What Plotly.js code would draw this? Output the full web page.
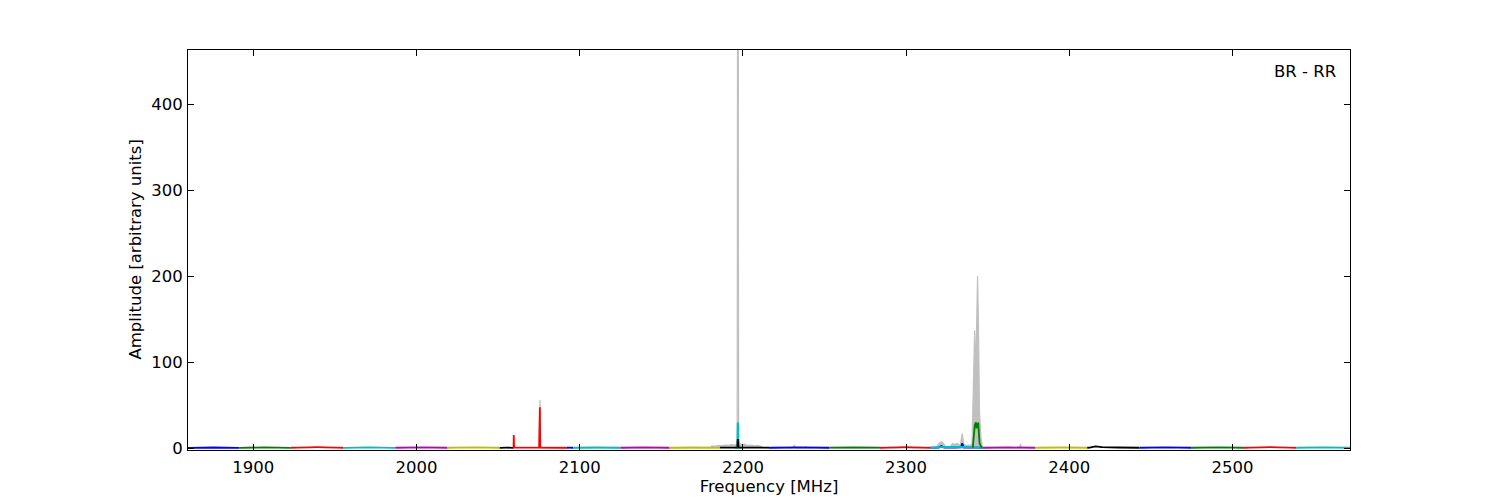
<!DOCTYPE html>
<html>
<head>
<meta charset="utf-8">
<script src="https://cdn.plot.ly/plotly-3.0.1.min.js"></script>
<style>html,body{margin:0;padding:0;background:#fff;}#chart{width:1500px;height:500px;}</style>
</head>
<body>
<div id="chart"></div>
<script>
// ---- Data (frequency in MHz, amplitude in arbitrary units) ----
// Spectrum segments (each band drawn in its own colour)
const segStart = [1860, 1891.6, 1923, 1955, 1987, 2019, 2051, 2059.5, 2092, 2096, 2125, 2155, 2195, 2186, 2216, 2253, 2284, 2315, 2315, 2340.5, 2347, 2379, 2411, 2443, 2475, 2507, 2539];
const segEnd   = [1891.6, 1923, 1955, 1987, 2019, 2051, 2059.5, 2092, 2096, 2125, 2155, 2186, 2199, 2216, 2253, 2284, 2315, 2347, 2347, 2346.5, 2379, 2411, 2443, 2475, 2507, 2539, 2572];
const segColor = ['b','g','r','c','m','y','k','r','b','c','m','y','c','k','b','g','r','b','c','g','m','y','k','b','g','r','c'];
const segEdge  = [0.2, 0.2, 0.3, 0.2, 0.3, 0.3, 0.2, 0.3, 0.3, 0.3, 0.3, 0.3, 0.4, 0.4, 0.3, 0.4, 0.3, 0.4, 0.3, 0.8, 0.3, 0.3, 0.3, 0.3, 0.3, 0.3, 0.3];
const segMid   = [0.6, 0.8, 1.0, 0.7, 0.8, 0.7, 0.4, null, 0.4, 0.6, 0.7, 0.6, null, null, 0.8, 0.8, 1.0, null, null, null, 0.7, 0.6, null, 0.8, 0.8, 1.0, 0.7];

// Features inside segments: segment index, frequency, amplitude
const featSeg  = [7, 7, 7, 7, 7, 7,
                  12, 12, 12, 12,
                  13, 13, 13, 13,
                  17, 17, 17, 17, 17, 17, 17,
                  18, 18, 18, 18, 18, 18,
                  19, 19, 19, 19, 19, 19, 19, 19,
                  22, 22, 22, 22];
const featFreq = [2059.6, 2059.8, 2075.2, 2075.4, 2075.6, 2075.8,
                  2196.6, 2196.8, 2197.1, 2197.3,
                  2196.6, 2196.8, 2197.1, 2197.3,
                  2320.0, 2321.6, 2323.2, 2330, 2333.6, 2334.4, 2335.4,
                  2320.3, 2321.6, 2323.0, 2333.8, 2334.4, 2335.0,
                  2340.9, 2342.1, 2342.8, 2343.2, 2344.2, 2345.0, 2345.6, 2346.2,
                  2412.5, 2416.0, 2420, 2430];
const featAmp  = [15, 0.5, 0.5, 47.5, 47.5, 0.5,
                  0.5, 28.7, 28.7, 0.5,
                  0.5, 9.3, 9.3, 0.5,
                  0.5, 2.3, 0.5, 0.6, 0.8, 5.4, 0.5,
                  1.2, 0.6, 1.2, 1.4, 0.6, 1.3,
                  1.0, 26.7, 29.9, 22.9, 29.5, 5.8, 2.0, 0.8,
                  0.4, 2.0, 1.0, 0.6];

// Gray envelope behind the coloured spectra
const grayFreq = [2074.9, 2075.3, 2075.7, 2076.1,
                  2180, 2181, 2183, 2185, 2187, 2189, 2191, 2193, 2195, 2196.5, 2196.7, 2197.2, 2197.4, 2199, 2201, 2203, 2205, 2207, 2209, 2211, 2213,
                  2230.2, 2231.5, 2232.8, 2238.0, 2238.5, 2239.0,
                  2318.5, 2320, 2321.6, 2323, 2324.5, 2327, 2328.5, 2330, 2331.5, 2333.2, 2334.4, 2335.3, 2337, 2339, 2340.4, 2341.2, 2342.0, 2342.7, 2343.3, 2343.8, 2344.3, 2345.0, 2346.0, 2346.8,
                  2369.6, 2370.1, 2370.6];
const grayAmp  = [0, 55.8, 55.8, 0,
                  0, 2.5, 2.0, 3.0, 2.5, 3.5, 3.0, 4.0, 3.5, 5.0, 470, 470, 6.0, 4.0, 4.5, 3.0, 3.5, 2.5, 3.0, 2.0, 0,
                  0, 3.0, 0, 0, 2.0, 0,
                  0, 5.0, 7.4, 5.0, 0.5, 2.0, 5.0, 4.5, 5.4, 3.0, 17, 4.0, 3.0, 3.0, 5.0, 60, 137, 90, 150, 200, 150, 40, 10, 0,
                  0, 4.7, 0];

const xTicks = [1900, 2000, 2100, 2200, 2300, 2400, 2500];
const yTicks = [0, 100, 200, 300, 400];

// ---- Build traces ----
const colorMap = {b:'#0000ff', g:'#008000', r:'#ff0000', c:'#00bfbf', m:'#bf00bf', y:'#bfbf00', k:'#000000'};
const traces = [];
traces.push({
  x: grayFreq, y: grayAmp, type: 'scatter', mode: 'lines',
  fill: 'tozeroy', fillcolor: 'rgba(192,192,192,1)',
  line: {color: 'rgb(192,192,192)', width: 1.2},
  hoverinfo: 'skip', showlegend: false
});
for (let i = 0; i < segStart.length; i++) {
  const pts = [[segStart[i], segEdge[i]], [segEnd[i], segEdge[i]]];
  if (segMid[i] !== null) pts.push([(segStart[i] + segEnd[i]) / 2, segMid[i]]);
  for (let j = 0; j < featSeg.length; j++) {
    if (featSeg[j] === i) pts.push([featFreq[j], featAmp[j]]);
  }
  pts.sort((a, b) => a[0] - b[0]);
  traces.push({
    x: pts.map(p => p[0]), y: pts.map(p => p[1]),
    type: 'scatter', mode: 'lines',
    line: {color: colorMap[segColor[i]], width: 1.8,
           shape: segMid[i] === null ? 'linear' : 'spline', smoothing: 0.3},
    showlegend: false
  });
}

const font = {family: 'DejaVu Sans, sans-serif', size: 16.5, color: '#000'};
const tickFont = {family: 'DejaVu Sans, sans-serif', size: 16.5, color: '#000'};
const layout = {
  width: 1500, height: 500,
  margin: {l: 188, r: 150, t: 50, b: 50},
  paper_bgcolor: '#fff', plot_bgcolor: '#fff',
  font: font,
  showlegend: false,
  xaxis: {
    range: [1860, 2572], tickvals: xTicks, ticktext: xTicks.map(String),
    ticks: 'inside', ticklen: 6, tickcolor: '#000', tickwidth: 1,
    showline: true, linecolor: '#000', linewidth: 1, mirror: 'ticks',
    showgrid: false, zeroline: false, tickfont: tickFont, ticklabelstandoff: 2,
    title: {text: 'Frequency [MHz]', font: font, standoff: 0}
  },
  yaxis: {
    range: [-2.3, 462.8], tickvals: yTicks, ticktext: yTicks.map(String),
    ticks: 'inside', ticklen: 6, tickcolor: '#000', tickwidth: 1,
    showline: true, linecolor: '#000', linewidth: 1, mirror: 'ticks',
    showgrid: false, zeroline: false, tickfont: tickFont, ticklabelstandoff: 1
  },
  annotations: [{
    text: 'BR - RR', xref: 'paper', yref: 'paper', x: 1, y: 1,
    xanchor: 'right', yanchor: 'top', xshift: -12, yshift: -10,
    showarrow: false, font: font
  }, {
    text: 'Amplitude [arbitrary units]', xref: 'paper', yref: 'paper', x: 0, y: 0.5,
    xanchor: 'right', yanchor: 'middle', xshift: -42, textangle: -90,
    showarrow: false, font: font
  }]
};
Plotly.newPlot('chart', traces, layout, {displayModeBar: false, staticPlot: true});
</script>
</body>
</html>
